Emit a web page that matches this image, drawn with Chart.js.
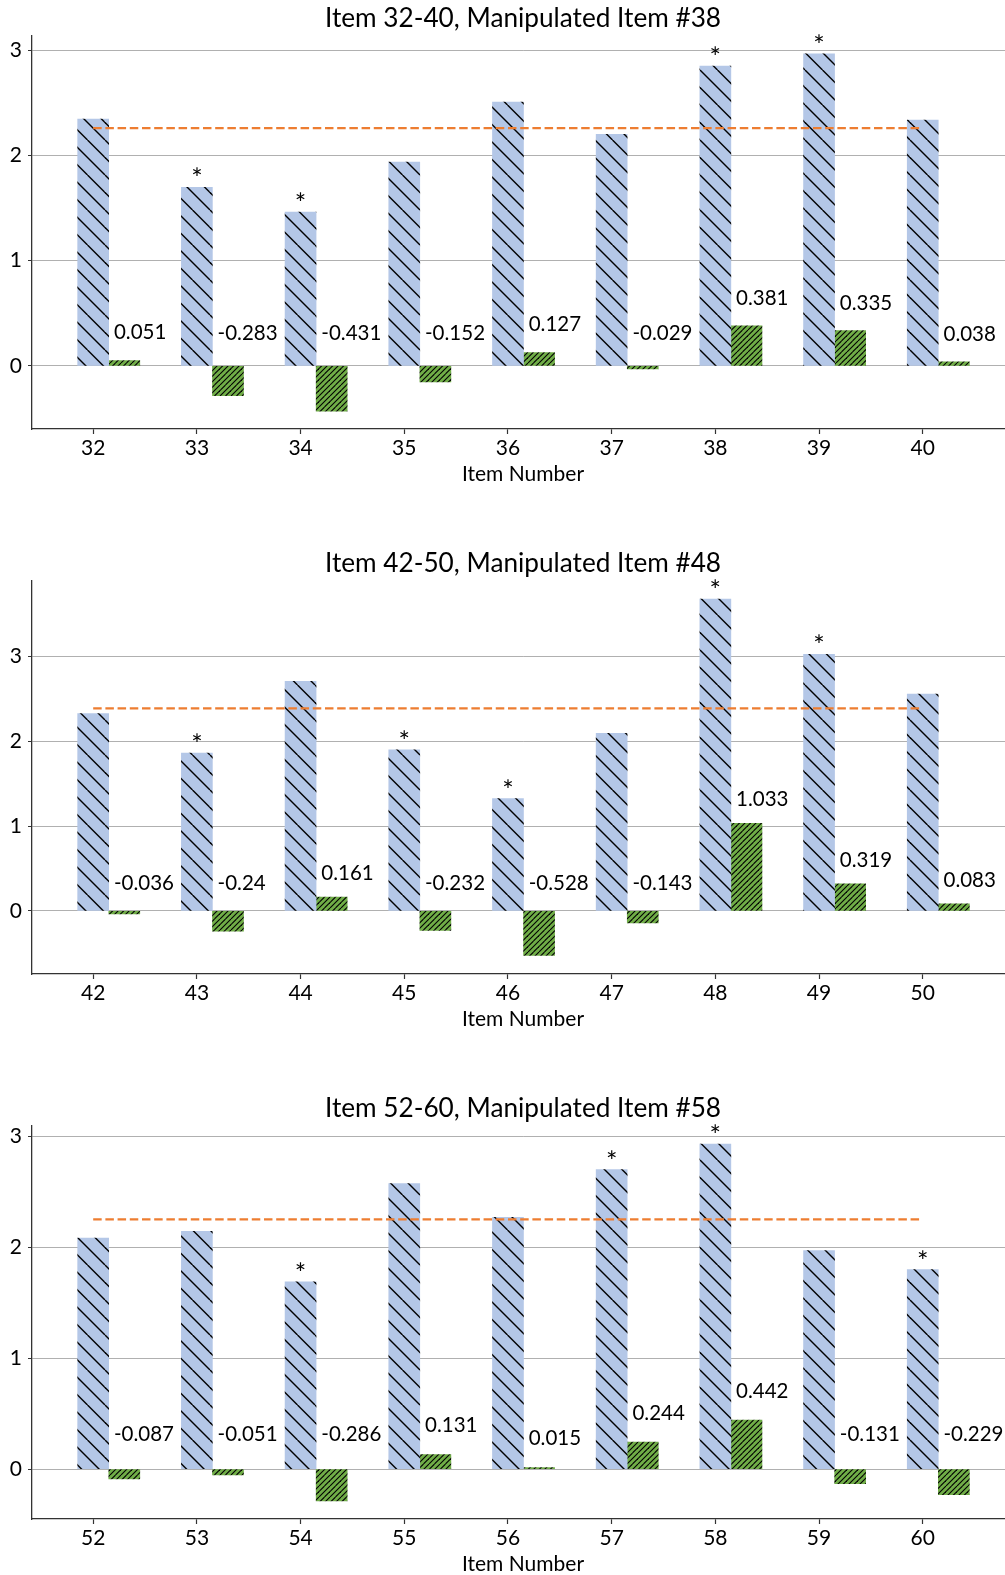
<!DOCTYPE html>
<html>
<head>
<meta charset="utf-8">
<script src="https://cdn.jsdelivr.net/npm/chart.js@4.4.0/dist/chart.umd.min.js"></script>
<style>
html, body { margin: 0; padding: 0; background: #fff; overflow: hidden; }
#wrap { position: relative; width: 1005px; height: 1575px; overflow: hidden; }
.panel { position: absolute; left: 0; width: 1014px; height: 545px; }
</style>
</head>
<body>
<div id="wrap">
	<div class="panel" style="top:0px"><canvas id="c1"></canvas></div>
	<div class="panel" style="top:545px"><canvas id="c2"></canvas></div>
	<div class="panel" style="top:1090px"><canvas id="c3"></canvas></div>
</div>
<script>
// values
const itemsA = [32, 33, 34, 35, 36, 37, 38, 39, 40];
const scoreA = [2.345, 1.696, 1.461, 1.936, 2.507, 2.200, 2.849, 2.966, 2.336];
const diffA = [0.051, -0.283, -0.431, -0.152, 0.127, -0.029, 0.381, 0.335, 0.038];
const starsA = [33, 34, 38, 39];
const avgA = 2.26;

const itemsB = [42, 43, 44, 45, 46, 47, 48, 49, 50];
const scoreB = [2.327, 1.863, 2.709, 1.899, 1.324, 2.095, 3.679, 3.027, 2.559];
const diffB = [-0.036, -0.24, 0.161, -0.232, -0.528, -0.143, 1.033, 0.319, 0.083];
const starsB = [43, 45, 46, 48, 49];
const avgB = 2.39;

const itemsC = [52, 53, 54, 55, 56, 57, 58, 59, 60];
const scoreC = [2.083, 2.142, 1.688, 2.573, 2.268, 2.699, 2.929, 1.969, 1.798];
const diffC = [-0.087, -0.051, -0.286, 0.131, 0.015, 0.244, 0.442, -0.131, -0.229];
const starsC = [54, 57, 58, 60];
const avgC = 2.25;

const titles = ['Item 32-40, Manipulated Item #38', 'Item 42-50, Manipulated Item #48', 'Item 52-60, Manipulated Item #58'];

const BLUE = '#b4c7e7', GREEN = '#70ad47', ORANGE = '#ed7d31';

function hatch(bg, spacing, count, dir, lw) {
	const T = spacing * count;
	const c = document.createElement('canvas');
	c.width = T; c.height = T;
	const g = c.getContext('2d');
	g.fillStyle = bg;
	g.fillRect(0, 0, T, T);
	g.strokeStyle = '#000';
	g.lineWidth = lw;
	for (let j = -count; j <= 2 * count; j++) {
		const o = j * spacing;
		g.beginPath();
		if (dir === '/') { g.moveTo(o, T); g.lineTo(o + T, 0); }
		else { g.moveTo(o, 0); g.lineTo(o + T, T); }
		g.stroke();
	}
	return g.createPattern(c, 'repeat');
}

const annot = {
	id: 'annot',
	afterDatasetsDraw(chart, args, opts) {
		const { ctx, scales: { x, y } } = chart;
		ctx.save();
		ctx.fillStyle = '#000';
		ctx.font = '20.5px Lato';
		ctx.textAlign = 'left';
		ctx.textBaseline = 'alphabetic';
		opts.items.forEach((it, i) => {
			const v = opts.diff[i];
			const ty = v >= 0 ? v + 0.2 : 0.25;
			ctx.fillText(String(v), x.getPixelForValue(it + 0.2), y.getPixelForValue(ty));
		});
		ctx.textAlign = 'center';
		ctx.font = '27px Lato';
		opts.stars.forEach(it => {
			const i = opts.items.indexOf(it);
			ctx.fillText('*', x.getPixelForValue(it), y.getPixelForValue(opts.score[i]) + 1);
		});
		ctx.restore();
	}
};

function makePanel(id, p) {
	const blueHatch = hatch(BLUE, 17.5, 2, '\\', 1.4);
	const greenHatch = hatch(GREEN, 5.5, 2, '/', 1.1);
	new Chart(document.getElementById(id), {
		type: 'bar',
		data: {
			datasets: [{
				type: 'line',
				data: [{ x: p.items[0], y: p.avg }, { x: p.items[p.items.length - 1], y: p.avg }],
				borderColor: ORANGE,
				borderWidth: 2.2,
				borderDash: [8.5, 3.7],
				pointRadius: 0,
				fill: false,
				order: 0
			}, {
				data: p.items.map((it, i) => ({ x: it, y: p.score[i] })),
				backgroundColor: blueHatch,
				order: 1
			}, {
				data: p.items.map((it, i) => ({ x: it + 0.3, y: p.diff[i] })),
				backgroundColor: greenHatch,
				order: 1
			}]
		},
		options: {
			responsive: true,
			maintainAspectRatio: false,
			animation: false,
			layout: { padding: 0 },
			datasets: { bar: { grouped: false, barThickness: 31, borderWidth: 0 } },
			plugins: {
				legend: { display: false },
				tooltip: { enabled: false },
				title: {
					display: true,
					fullSize: false,
					text: p.title,
					color: '#000',
					font: { size: 26.2, weight: 'normal' },
					padding: { top: 3, bottom: 1 }
				},
				annot: { items: p.items, score: p.score, diff: p.diff, stars: p.stars }
			},
			scales: {
				x: {
					type: 'linear',
					min: p.xMin,
					max: p.xMax,
					offset: false,
					ticks: { stepSize: 1, includeBounds: false, color: '#000', font: { size: 21 }, padding: 2, maxRotation: 0 },
					grid: { offset: false, drawOnChartArea: false, tickLength: 5, tickColor: '#333', tickWidth: 1.2 },
					border: { color: '#333', width: 1.3 },
					title: { display: true, text: 'Item Number', color: '#000', font: { size: 21 }, padding: { top: 0, bottom: 58 } },
					afterFit: s => { s.height = 116; }
				},
				y: {
					min: p.yMin,
					max: p.yMax,
					ticks: { stepSize: 1, includeBounds: false, color: '#000', font: { size: 21 }, padding: 6 },
					grid: { color: '#b0b0b0', lineWidth: 1, tickColor: '#333', tickLength: 4 },
					border: { color: '#333', width: 1.3 },
					afterFit: s => { s.width = 32; }
				}
			}
		},
		plugins: [annot]
	});
}

Chart.defaults.font.family = 'Lato, "Open Sans", sans-serif';

document.fonts.load('20px Lato').then(() => {
	makePanel('c1', { title: titles[0], items: itemsA, score: scoreA, diff: diffA, stars: starsA, avg: avgA, xMin: 31.41, xMax: 40.88, yMin: -0.6, yMax: 3.14 });
	makePanel('c2', { title: titles[1], items: itemsB, score: scoreB, diff: diffB, stars: starsB, avg: avgB, xMin: 41.41, xMax: 50.88, yMin: -0.746, yMax: 3.9 });
	makePanel('c3', { title: titles[2], items: itemsC, score: scoreC, diff: diffC, stars: starsC, avg: avgC, xMin: 51.41, xMax: 60.88, yMin: -0.449, yMax: 3.097 });
});
</script>
</body>
</html>
